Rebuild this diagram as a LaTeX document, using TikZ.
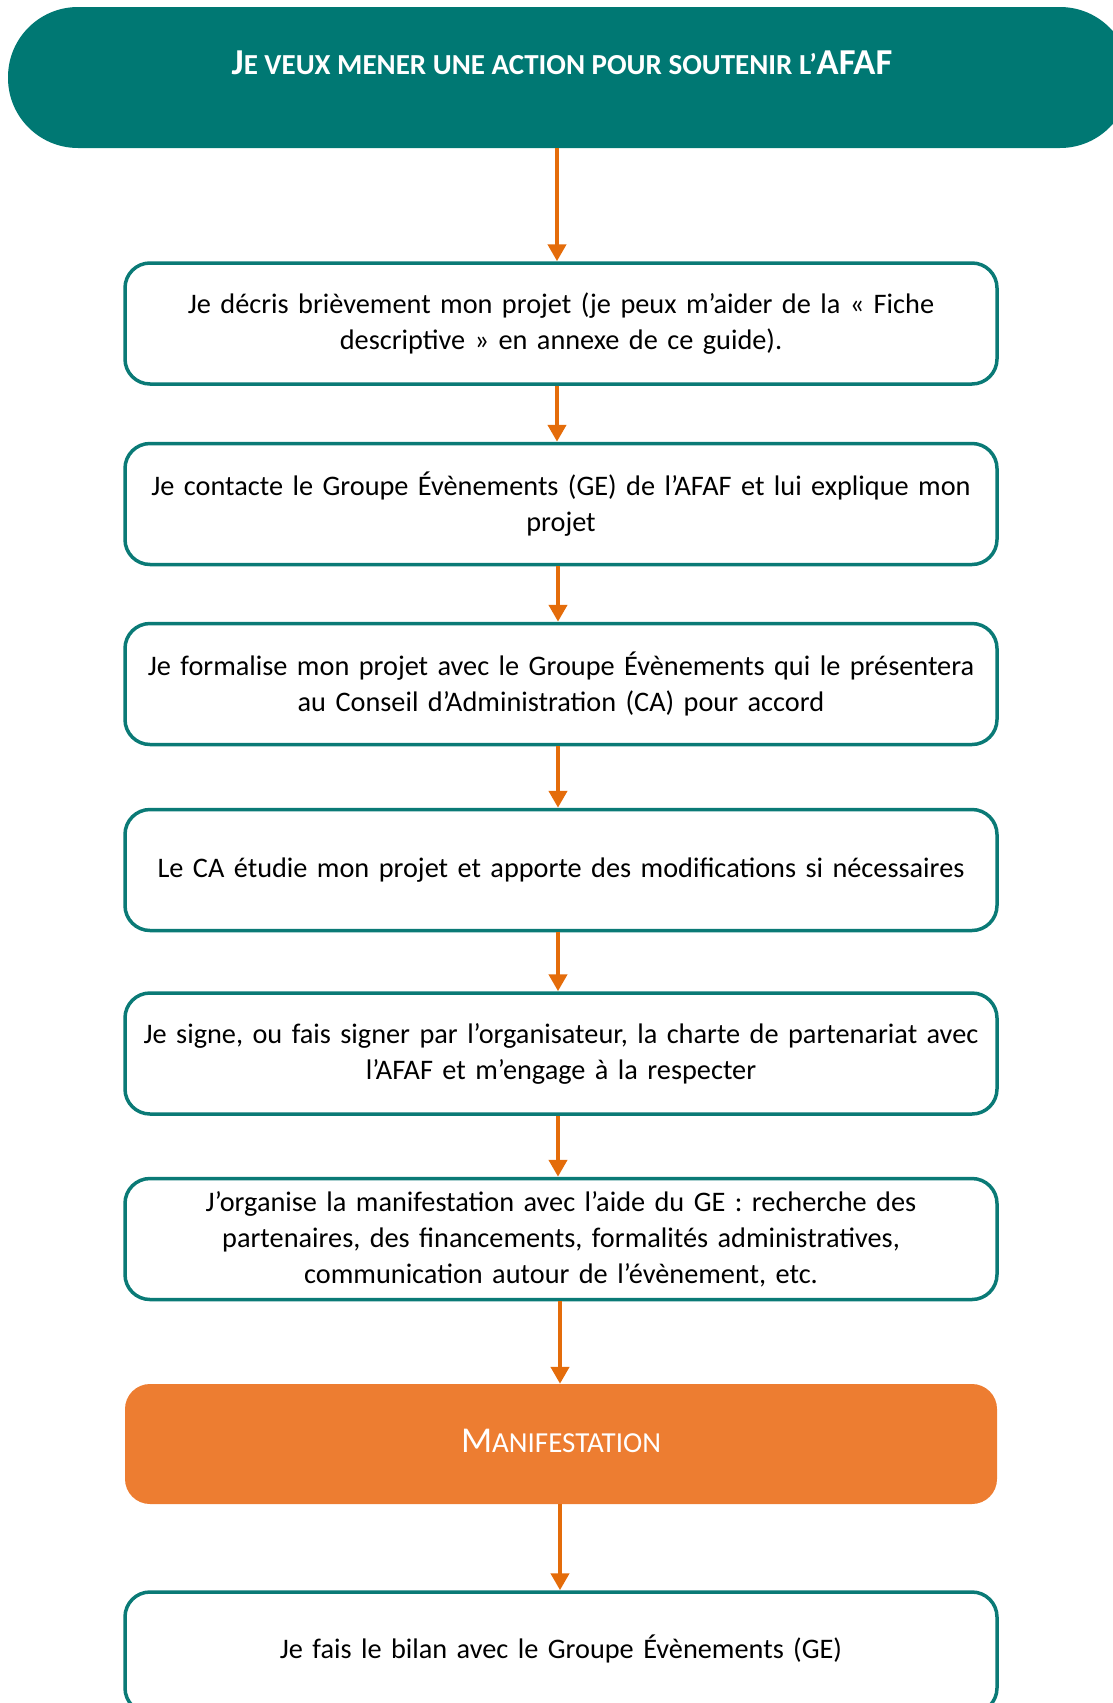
\documentclass[tikz,border=0pt]{standalone}
\usepackage{fontspec}
\setmainfont{Carlito}
\usetikzlibrary{arrows.meta}
\definecolor{tealc}{HTML}{007873}
\definecolor{boxc}{HTML}{0A7A76}
\definecolor{arrc}{HTML}{E46C0A}
\definecolor{manc}{HTML}{ED7D31}
\begin{document}
\begin{tikzpicture}[x=1pt,y=-1pt,
  stepbox/.style={draw=boxc, line width=3.5pt, rounded corners=25pt, minimum width=872pt, minimum height=121pt, text width=866pt, align=center, inner sep=0pt, font=\fontsize{28.3}{36}\selectfont},
  arr/.style={draw=arrc, line width=4.5pt, -{Triangle[width=18pt,length=17pt]}}]
\path[use as bounding box] (0,0) rectangle (1113,1703);
\clip (0,0) rectangle (1113,1703);
\node[fill=tealc, rounded corners=70pt, minimum width=1122pt, minimum height=141pt, inner sep=0pt] (title) at (569,77.5) {};
\node[text=white, inner sep=0pt] (titletext) at (562,63) {\bfseries\fontsize{36.5}{40}\selectfont J{\fontsize{29}{40}\selectfont E VEUX MENER UNE ACTION POUR SOUTENIR L’}AFAF};
\node[stepbox] (b1) at (561,323.5) {Je décris brièvement mon projet (je peux m’aider de la « Fiche\\descriptive » en annexe de ce guide).};
\node[stepbox] (b2) at (561,504) {Je contacte le Groupe Évènements (GE) de l’AFAF et lui explique mon\\projet};
\node[stepbox] (b3) at (561,684) {Je formalise mon projet avec le Groupe Évènements qui le présentera\\au Conseil d’Administration (CA) pour accord};
\node[stepbox] (b4) at (561,870) {Le CA étudie mon projet et apporte des modifications si nécessaires};
\node[stepbox] (b5) at (561,1053.5) {Je signe, ou fais signer par l’organisateur, la charte de partenariat avec\\l’AFAF et m’engage à la respecter};
\node[stepbox] (b6) at (561,1239) {J’organise la manifestation avec l’aide du GE : recherche des\\partenaires, des financements, formalités administratives,\\communication autour de l’évènement, etc.};
\node[fill=manc, rounded corners=25pt, minimum width=872pt, minimum height=120pt, inner sep=0pt, text=white] (man) at (561,1444) {\raisebox{3pt}[\height][\depth]{\fontsize{36.4}{40}\selectfont M{\fontsize{29}{40}\selectfont ANIFESTATION}}};
\node[stepbox] (b8) at (561,1652.5) {\raisebox{4pt}[\height][\depth]{Je fais le bilan avec le Groupe Évènements (GE)}};
\draw[arr] ([xshift=-12pt]title.south) -- ([xshift=-4pt]b1.north);
\draw[arr] ([xshift=-4pt]b1.south) -- ([xshift=-4pt]b2.north);
\draw[arr] ([xshift=-3pt]b2.south) -- ([xshift=-3pt]b3.north);
\draw[arr] ([xshift=-3pt]b3.south) -- ([xshift=-3pt]b4.north);
\draw[arr] ([xshift=-3pt]b4.south) -- ([xshift=-3pt]b5.north);
\draw[arr] ([xshift=-3pt]b5.south) -- ([xshift=-3pt]b6.north);
\draw[arr] ([xshift=-1pt]b6.south) -- ([xshift=-1pt]man.north);
\draw[arr] ([xshift=-1pt]man.south) -- ([xshift=-1pt]b8.north);
\end{tikzpicture}
\end{document}
